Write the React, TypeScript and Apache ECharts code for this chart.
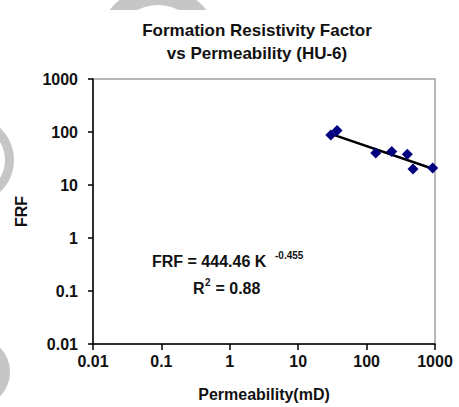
import React, { useEffect, useRef } from "react";
import * as echarts from "echarts";

const permeability = [30, 37, 136, 233, 394, 477, 925];
const frf = [88, 107, 40, 43, 38, 20, 21];
const trendK = [30, 950];
const trendFRF = [92, 20];
const xTicks = [0.01, 0.1, 1, 10, 100, 1000];
const yTicks = [0.01, 0.1, 1, 10, 100, 1000];

const FONT = "'Liberation Sans', Arial, sans-serif";
const WM = "#c6c6c6";

const fmt = (v: number) => String(parseFloat(Number(v).toPrecision(3)));

export default function App() {
  const ref = useRef<HTMLDivElement>(null);
  useEffect(() => {
    const chart = echarts.init(ref.current!, null, { renderer: "svg" });
    chart.setOption({
      animation: false,
      backgroundColor: "#ffffff",
      textStyle: { fontFamily: FONT },
      title: {
        text: "Formation Resistivity Factor\nvs Permeability (HU-6)",
        left: 252,
        top: 14,
        textAlign: "center",
        textStyle: {
          fontFamily: FONT,
          fontSize: 17,
          fontWeight: "bold",
          color: "#111",
          lineHeight: 23,
        },
      },
      grid: {
        left: 93,
        right: 24,
        top: 79,
        bottom: 62,
        show: true,
        borderColor: "#a0a0a0",
        borderWidth: 1.5,
      },
      xAxis: {
        type: "log",
        logBase: 10,
        min: xTicks[0],
        max: xTicks[xTicks.length - 1],
        name: "Permeability(mD)",
        nameLocation: "middle",
        nameGap: 42,
        nameTextStyle: { fontFamily: FONT, fontSize: 16, fontWeight: "bold", color: "#111" },
        axisLine: { show: true, lineStyle: { color: "#000", width: 1.5 } },
        axisTick: { show: true, length: 6, inside: false, lineStyle: { color: "#000", width: 1.5 } },
        minorTick: { show: false },
        splitLine: { show: false },
        axisLabel: {
          formatter: fmt,
          fontFamily: FONT,
          fontSize: 16,
          fontWeight: "bold",
          color: "#111",
          margin: 9,
        },
      },
      yAxis: {
        type: "log",
        logBase: 10,
        min: yTicks[0],
        max: yTicks[yTicks.length - 1],
        name: "FRF",
        nameLocation: "middle",
        nameGap: 64,
        nameTextStyle: { fontFamily: FONT, fontSize: 16, fontWeight: "bold", color: "#111" },
        axisLine: { show: true, lineStyle: { color: "#000", width: 1.5 } },
        axisTick: { show: true, length: 5, inside: false, lineStyle: { color: "#000", width: 1.5 } },
        minorTick: { show: false },
        splitLine: { show: false },
        axisLabel: {
          formatter: fmt,
          fontFamily: FONT,
          fontSize: 16,
          fontWeight: "bold",
          color: "#111",
          margin: 15,
        },
      },
      graphic: [
        { type: "ring", z: -10, silent: true, shape: { cx: 158, cy: 50, r: 63, r0: 45 }, style: { fill: WM } },
        { type: "ring", z: -10, silent: true, shape: { cx: -30, cy: 160, r: 44, r0: 35 }, style: { fill: WM } },
        { type: "circle", z: -10, silent: true, shape: { cx: -25, cy: 372, r: 35 }, style: { fill: WM } },
        { type: "rect", z: -9, silent: true, shape: { x: 14, y: 10, width: 460, height: 410 }, style: { fill: "#fff" } },
        {
          type: "text",
          left: 152,
          top: 253,
          style: { text: "FRF = 444.46 K", font: `bold 16px ${FONT}`, fill: "#111" },
        },
        {
          type: "text",
          left: 275,
          top: 250,
          style: { text: "-0.455", font: `bold 10px ${FONT}`, fill: "#111" },
        },
        {
          type: "text",
          left: 193,
          top: 280,
          style: { text: "R", font: `bold 16px ${FONT}`, fill: "#111" },
        },
        {
          type: "text",
          left: 205,
          top: 277,
          style: { text: "2", font: `bold 10px ${FONT}`, fill: "#111" },
        },
        {
          type: "text",
          left: 211,
          top: 280,
          style: { text: " = 0.88", font: `bold 16px ${FONT}`, fill: "#111" },
        },
      ],
      series: [
        {
          type: "line",
          data: trendK.map((k, i) => [k, trendFRF[i]]),
          showSymbol: false,
          symbol: "none",
          lineStyle: { color: "#000", width: 2.5 },
          z: 2,
        },
        {
          type: "scatter",
          data: permeability.map((k, i) => [k, frf[i]]),
          symbol: "diamond",
          symbolSize: 11,
          itemStyle: { color: "#00007f", opacity: 1 },
          z: 3,
        },
      ],
    });
    return () => chart.dispose();
  }, []);
  return (
    <div
      ref={ref}
      style={{ position: "absolute", left: 0, top: 0, width: 459, height: 407, background: "#fff" }}
    />
  );
}
